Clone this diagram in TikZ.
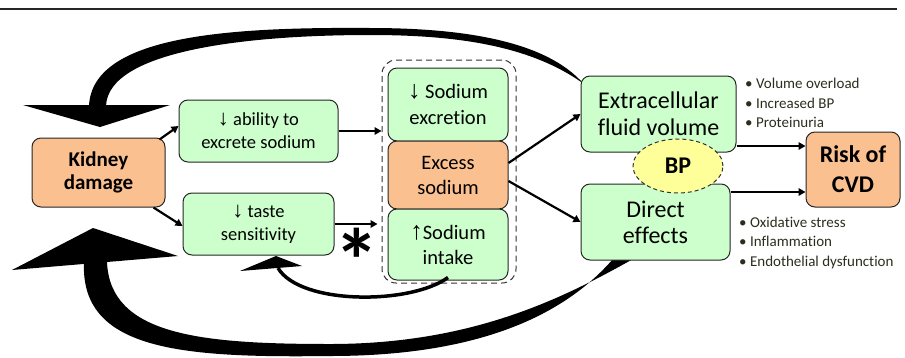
\documentclass[tikz,border=0pt]{standalone}
\usepackage{fontspec}
\setmainfont{Carlito}[Ligatures=NoCommon]
\newfontfamily\arrowfont{Liberation Sans}
\usetikzlibrary{arrows.meta,shapes.geometric,calc}
\definecolor{boxgreen}{HTML}{CCFFCC}
\definecolor{boxorange}{HTML}{FAC090}
\definecolor{bpyellow}{HTML}{FFFF99}
\definecolor{bullettext}{HTML}{2D2D1E}
\newcommand{\dnar}[1]{{\arrowfont\fontsize{#1}{#1}\selectfont ↓}}
\newcommand{\upar}[1]{{\arrowfont\fontsize{#1}{#1}\selectfont ↑}}
\tikzset{
  box/.style={draw=black!85, line width=1pt, rounded corners=9pt, inner sep=0pt, align=center, text=black},
  gbox/.style={box, fill=boxgreen},
  obox/.style={box, fill=boxorange},
  conn/.style={line width=2.2pt, -{Triangle[length=7pt,width=7.5pt]}},
  bul/.style={anchor=base west, inner sep=0pt, text=bullettext, font=\fontsize{15}{18}\selectfont},
  bigarrow/.style={fill=black, draw=none},
}
\begin{document}
\begin{tikzpicture}[x=1pt,y=-1pt]
\useasboundingbox (0,0) rectangle (905,357);
% top rule
\coordinate (ruleL) at (0,9);
\coordinate (ruleR) at (897,9);
\draw[line width=2.5pt, black!85] (ruleL) -- (ruleR);

% big feedback arrows (drawn first)
\fill[bigarrow] (89,106) .. controls (92,35) and (230,27) .. (370,28)
   .. controls (460,28) and (540,40) .. (579,79) -- (584,84)
   .. controls (530,45) and (455,35) .. (370,35)
   .. controls (250,35) and (108,50) .. (106,106) -- cycle;
\fill[bigarrow] (23,105) -- (170,105) -- (100,127) -- cycle;

\fill[bigarrow] (84,262) .. controls (80,350) and (180,358) .. (330,356)
   .. controls (470,356) and (560,320) .. (613,259) -- (633,259)
   .. controls (560,300) and (470,344) .. (330,344)
   .. controls (200,344) and (110,335) .. (107,262) -- cycle;
\fill[bigarrow] (12,270) -- (93,228) -- (178,256) -- cycle;

% nodes
\node[obox, minimum width=133pt, minimum height=69pt, font=\bfseries\fontsize{21}{23}\selectfont] (kid) at (98.5,172.5) {Kidney\\damage};
\node[gbox, minimum width=159pt, minimum height=62pt, font=\fontsize{18.5}{23}\selectfont] (abil) at (258.5,131) {\dnar{22} ability to\\excrete sodium};
\node[gbox, minimum width=151pt, minimum height=62pt, font=\fontsize{18.5}{23}\selectfont] (taste) at (258.5,224) {\dnar{22} taste\\sensitivity};

\node[draw=black!80, line width=1pt, dash pattern=on 6pt off 4pt, rounded corners=14pt, minimum width=134pt, minimum height=223pt, inner sep=0pt] (grp) at (449,171.5) {};
\node[gbox, minimum width=120pt, minimum height=73pt, font=\fontsize{20.5}{26}\selectfont] (excr) at (448,104.5) {\dnar{25} Sodium\\excretion};
\node[obox, minimum width=120pt, minimum height=68pt, font=\fontsize{20.5}{25}\selectfont] (exc) at (448,175) {Excess\\sodium};
\node[gbox, minimum width=120pt, minimum height=71pt, font=\fontsize{20.5}{25}\selectfont] (intk) at (448,244.5) {\upar{25}Sodium\\intake};

\node[gbox, minimum width=155pt, minimum height=76pt, font=\fontsize{24}{27}\selectfont] (ecf) at (658.5,114) {Extracellular\\fluid volume};
\node[gbox, minimum width=149pt, minimum height=76pt, font=\fontsize{24}{26}\selectfont] (dir) at (655.5,222) {Direct\\effects};
\node[ellipse, draw=black!80, line width=1pt, dash pattern=on 4pt off 3pt, fill=bpyellow, minimum width=90pt, minimum height=54pt, inner sep=0pt, font=\bfseries\fontsize{24}{24}\selectfont] (bp) at (678,166) {BP};
\node[obox, minimum width=94pt, minimum height=75pt, font=\bfseries\fontsize{24}{30}\selectfont] (risk) at (853,169.5) {Risk of\\CVD};

% bullets
\node[bul] (b1) at (745,88) {• Volume overload};
\node[bul] (b2) at (745,108) {• Increased BP};
\node[bul] (b3) at (745,127) {• Proteinuria};
\node[bul] (b4) at (739,227) {• Oxidative stress};
\node[bul] (b5) at (739,246) {• Inflammation};
\node[bul] (b6) at (739,266) {• Endothelial dysfunction};

% asterisk
\node[inner sep=0pt, font=\bfseries\fontsize{90}{90}\selectfont] (ast) at (357,260) {*};

% connectors
\draw[conn] ([shift={(-6,2)}]kid.north east) -- ([shift={(0,-5)}]abil.west);
\draw[conn] ([shift={(-12,0)}]kid.south east) -- ([shift={(0,2)}]taste.west);
\draw[conn] (abil.east) -- (abil.east -| grp.west);
\draw[conn, shorten >=4pt] (taste.east) -- (taste.east -| grp.west);
\draw[conn] ([shift={(0,-12)}]exc.east) -- (ecf.west);
\draw[conn] ([shift={(0,6)}]exc.east) -- (dir.west);
\draw[conn] ([shift={(0,32)}]ecf.east) -- ([shift={(0,32)}]ecf.east -| risk.west);
\draw[conn] ([shift={(0,-30)}]dir.east) -- ([shift={(0,-30)}]dir.east -| risk.west);

% small feedback arrow from intake to taste
\coordinate (tipbase) at (278,268);
\draw[line width=3.5pt] ([shift={(0,-3)}]intk.south) .. controls (410,305) and (300,305) .. (tipbase);
\fill[bigarrow] (240,271) -- (276,256) -- (302,266) -- cycle;
\end{tikzpicture}
\end{document}
